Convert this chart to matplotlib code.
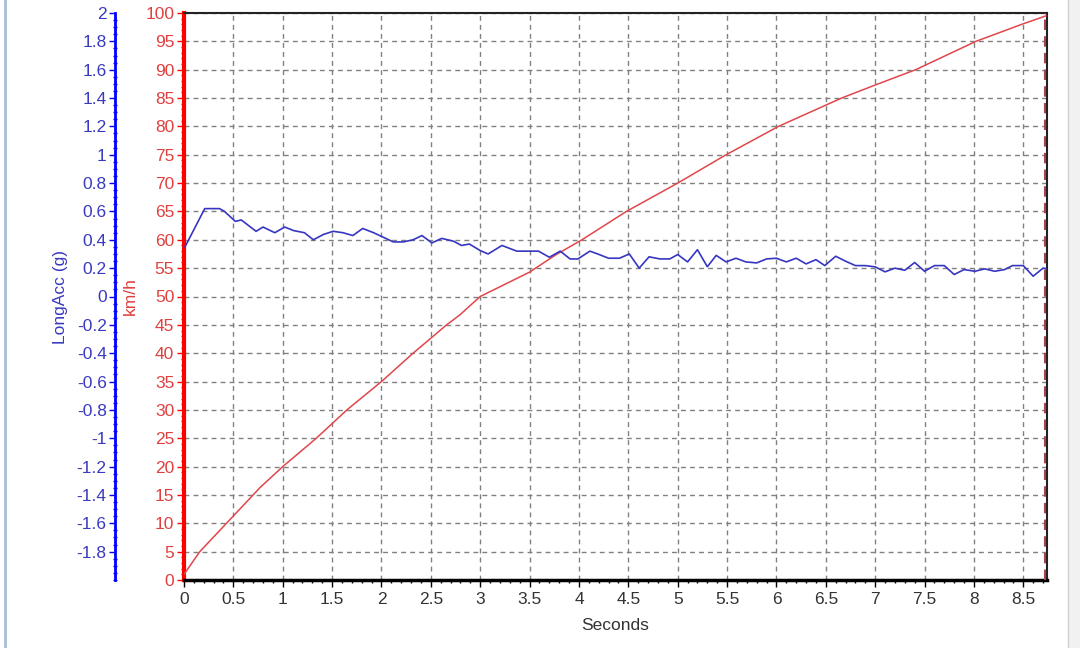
import numpy as np
import matplotlib
matplotlib.use('Agg')
import matplotlib.pyplot as plt
from matplotlib.ticker import MultipleLocator, FormatStrFormatter
from matplotlib.lines import Line2D
from matplotlib.patches import Rectangle

# longitudinal acceleration (g)
t_acc = [0.01, 0.21, 0.36, 0.41, 0.52, 0.58, 0.73, 0.80, 0.92, 1.02, 1.11, 1.22, 1.31, 1.41,
         1.51, 1.61, 1.71, 1.81, 1.92, 2.12, 2.22, 2.32, 2.41, 2.51, 2.61, 2.73, 2.81, 2.89,
         3.00, 3.08, 3.22, 3.37, 3.59, 3.70, 3.81, 3.91, 3.99, 4.11, 4.19, 4.30, 4.41, 4.51,
         4.61, 4.71, 4.82, 4.92, 5.00, 5.10, 5.20, 5.30, 5.39, 5.49, 5.59, 5.69, 5.80, 5.90,
         6.00, 6.10, 6.20, 6.30, 6.40, 6.49, 6.60, 6.70, 6.80, 6.90, 7.00, 7.10, 7.20, 7.30,
         7.40, 7.50, 7.60, 7.70, 7.80, 7.90, 8.01, 8.11, 8.21, 8.31, 8.39, 8.50, 8.60, 8.70, 8.74]
acc = [0.35, 0.62, 0.62, 0.60, 0.53, 0.54, 0.46, 0.49, 0.45, 0.49, 0.465, 0.45, 0.40, 0.437,
       0.46, 0.45, 0.43, 0.48, 0.45, 0.385, 0.385, 0.40, 0.43, 0.378, 0.41, 0.39, 0.36, 0.37,
       0.324, 0.30, 0.36, 0.32, 0.32, 0.277, 0.32, 0.265, 0.265, 0.32, 0.30, 0.27, 0.27, 0.30,
       0.20, 0.28, 0.265, 0.265, 0.296, 0.244, 0.33, 0.21, 0.29, 0.244, 0.27, 0.244, 0.237, 0.265,
       0.27, 0.244, 0.27, 0.23, 0.26, 0.218, 0.284, 0.249, 0.218, 0.218, 0.209, 0.174, 0.20, 0.185,
       0.24, 0.178, 0.218, 0.218, 0.155, 0.19, 0.178, 0.195, 0.178, 0.19, 0.218, 0.218, 0.143, 0.20, 0.195]

# speed (km/h)
t_spd = [0.0, 0.16, 0.43, 0.77, 1.0, 1.34, 1.65, 2.0, 2.32, 2.66, 2.79, 3.0, 3.5, 3.77, 4.03,
         4.48, 5.0, 5.49, 6.02, 6.66, 7.0, 7.41, 8.02, 8.5, 8.73]
spd = [1.0, 5, 10, 16.3, 20, 25, 30, 35, 40, 45, 46.7, 50, 54.3, 57.4, 60,
       65, 70, 75, 80, 85, 87.3, 90, 95, 98.1, 99.5]

assert len(t_acc) == len(acc)
assert len(t_spd) == len(spd)

plt.rcParams['font.family'] = ['Liberation Sans', 'DejaVu Sans']
fs = 12.5
blue_txt = '#3a3ac0'
red_txt = '#e0403f'

fig = plt.figure(figsize=(10.8, 6.48), dpi=100)
fig.patch.set_facecolor('white')
# window frame bits
fig.add_artist(Line2D([5 / 1080, 5 / 1080], [0, 1], color='#a9bfdc', lw=2))
fig.add_artist(Rectangle((1068 / 1080, 0), 12 / 1080, 1, color='#f1f1f1', lw=0))
fig.add_artist(Line2D([1068 / 1080, 1068 / 1080], [0, 1], color='#cfcfcf', lw=1))

ax = fig.add_axes([184 / 1080, 1 - 580 / 648, 863 / 1080, 567 / 648])
ax2 = ax.twinx()

# speed axis (red, inner left)
ax.plot(t_spd, spd, color='#e0464b', lw=1.1, zorder=3)
ax.set_xlim(0, 8.74)
ax.set_ylim(0, 100)
ax.xaxis.set_major_locator(MultipleLocator(0.5))
ax.xaxis.set_minor_locator(MultipleLocator(0.1))
ax.xaxis.set_major_formatter(FormatStrFormatter('%g'))
ax.yaxis.set_major_locator(MultipleLocator(5))
ax.yaxis.set_minor_locator(MultipleLocator(1))
ax.grid(True, which='major', color='#808080', linestyle=(0, (3.5, 3)), linewidth=1)
ax.set_axisbelow(True)
ax.tick_params(axis='x', which='major', direction='out', length=5, width=1, labelsize=fs,
               colors='black', labelcolor='#333333', pad=4)
ax.tick_params(axis='x', which='minor', direction='out', length=2.5, width=1, colors='black')
ax.tick_params(axis='y', which='major', direction='out', length=5, width=1, labelsize=fs,
               colors='red', labelcolor=red_txt, pad=2)
ax.tick_params(axis='y', which='minor', direction='out', length=2, width=1, colors='red')
ax.spines['left'].set_color('red')
ax.spines['left'].set_linewidth(3)
ax.spines['bottom'].set_color('black')
ax.spines['bottom'].set_linewidth(2.5)
ax.spines['top'].set_color('#222222')
ax.spines['top'].set_linewidth(1.5)
ax.spines['right'].set_color('#222222')
ax.spines['right'].set_linewidth(1.5)
ax.axvline(8.72, color='#a8424e', linestyle=(0, (5, 3)), lw=1.5, zorder=4)

ax.set_xlabel('Seconds', fontsize=fs, color='#333333')
ax.xaxis.set_label_coords(0.5, -(625 - 580) / 567)
ax.xaxis.label.set_va('center')
ax.set_ylabel('km/h', fontsize=fs, color=red_txt)
ax.yaxis.set_label_coords((130 - 184) / 863, 0.5)
ax.yaxis.label.set_va('center')

# acceleration axis (blue, outer left)
ax2.plot(t_acc, acc, color='#3636c2', lw=1.2, zorder=3)
ax2.set_ylim(-2, 2)
ax2.yaxis.set_ticks_position('left')
ax2.yaxis.set_label_position('left')
ax2.spines['left'].set_position(('axes', -69 / 863))
ax2.spines['left'].set_color('blue')
ax2.spines['left'].set_linewidth(2)
for s in ['right', 'top', 'bottom']:
    ax2.spines[s].set_visible(False)
bticks = np.round(np.arange(-1.8, 2.01, 0.2), 1) + 0.0
ax2.set_yticks(bticks)
ax2.set_yticklabels([f'{v:g}' for v in bticks])
ax2.yaxis.set_minor_locator(MultipleLocator(0.05))
ax2.tick_params(axis='y', which='major', direction='out', length=4, width=1, labelsize=fs,
                colors='blue', labelcolor=blue_txt, pad=2)
ax2.tick_params(axis='y', which='minor', direction='inout', length=2.5, width=1, colors='blue')
ax2.set_ylabel('LongAcc (g)', fontsize=fs, color=blue_txt)
ax2.yaxis.set_label_coords((61 - 184) / 863, 0.5)
ax2.yaxis.label.set_va('center')

fig.savefig('out.png', dpi=100)
